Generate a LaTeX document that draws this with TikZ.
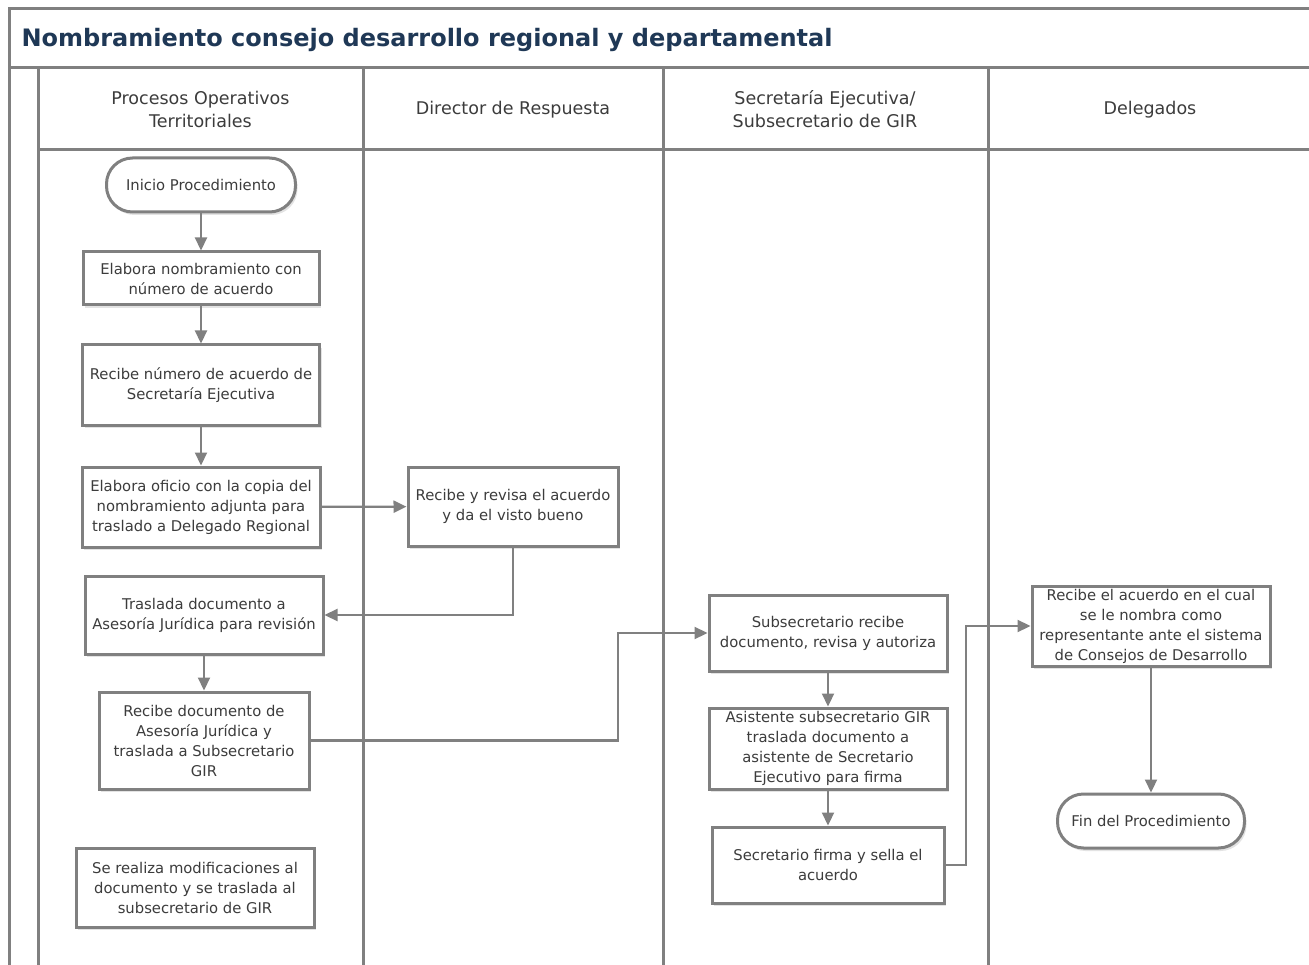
\documentclass[tikz,border=0pt]{standalone}
\usepackage{fontspec}
\setmainfont{DejaVu Sans}
\usetikzlibrary{arrows.meta,shadows}
\definecolor{lane}{RGB}{128,128,128}
\definecolor{ink}{RGB}{60,60,60}
\definecolor{navy}{RGB}{31,56,86}
\begin{document}
\begin{tikzpicture}[x=1pt,y=-1pt,
  frame/.style={draw=lane,line width=3pt},
  stepbox/.style={draw=lane,line width=3pt,fill=white,inner sep=0pt,align=center,
    text=ink,font=\fontsize{14.8}{20}\selectfont,
    drop shadow={opacity=0.22,shadow xshift=2pt,shadow yshift=-3pt}},
  term/.style={stepbox,rounded corners=26pt},
  flow/.style={draw=lane,line width=2.2pt,-{Triangle[length=13pt,width=12pt]}},
  lanehead/.style={text=ink,align=center,font=\fontsize{17.5}{23}\selectfont}
]
\useasboundingbox (0,0) rectangle (1309,965);
\fill[white] (0,0) rectangle (1309,965);

% pool frame and swimlanes
\begin{scope}
\clip (0,0) rectangle (1309,965);
\draw[frame] (9,970) -- (9,9) -- (1320,9);
\draw[frame] (9,68) -- (1320,68);
\draw[frame] (38,150) -- (1320,150);
\foreach \lx in {38,363,663,988} \draw[frame] (\lx,68) -- (\lx,970);
\end{scope}

% title and lane headers
\node[anchor=west,text=navy,font=\fontsize{24}{28}\selectfont\bfseries] (title) at (18,40)
  {Nombramiento consejo desarrollo regional y departamental};
\node[lanehead] (h1) at (200.5,109) {Procesos Operativos\\Territoriales};
\node[lanehead] (h2) at (513,110) {Director de Respuesta};
\node[lanehead] (h3) at (825,109) {Secretaría Ejecutiva/\\Subsecretario de GIR};
\node[lanehead] (h4) at (1150,110) {Delegados};

% process steps
\node[term,minimum width=189pt,minimum height=54pt] (ini) at (201,185) {Inicio Procedimiento};
\node[stepbox,minimum width=236pt,minimum height=53pt] (e1) at (201,278.5)
  {Elabora nombramiento con\\número de acuerdo};
\node[stepbox,minimum width=237pt,minimum height=80pt] (e2) at (201,385)
  {Recibe número de acuerdo de\\Secretaría Ejecutiva};
\node[stepbox,minimum width=238pt,minimum height=80pt] (e3) at (201,507)
  {Elabora oficio con la copia del\\nombramiento adjunta para\\traslado a Delegado Regional};
\node[stepbox,minimum width=210pt,minimum height=79pt] (dir) at (513,506.5)
  {Recibe y revisa el acuerdo\\y da el visto bueno};
\node[stepbox,minimum width=238pt,minimum height=78pt] (tras) at (204,615)
  {Traslada documento a\\Asesoría Jurídica para revisión};
\node[stepbox,minimum width=210pt,minimum height=97pt] (rec) at (204,740.5)
  {Recibe documento de\\Asesoría Jurídica y\\traslada a Subsecretario\\GIR};
\node[stepbox,minimum width=238pt,minimum height=79pt] (mod) at (195,887.5)
  {Se realiza modificaciones al\\documento y se traslada al\\subsecretario de GIR};
\node[stepbox,minimum width=238pt,minimum height=76pt] (sub) at (828,633)
  {Subsecretario recibe\\documento, revisa y autoriza};
\node[stepbox,minimum width=238pt,minimum height=81pt] (asi) at (828,748.5)
  {Asistente subsecretario GIR\\traslada documento a\\asistente de Secretario\\Ejecutivo para firma};
\node[stepbox,minimum width=232pt,minimum height=76pt] (sec) at (828,865)
  {Secretario firma y sella el\\acuerdo};
\node[stepbox,minimum width=238pt,minimum height=80pt] (rac) at (1151,626)
  {Recibe el acuerdo en el cual\\se le nombra como\\representante ante el sistema\\de Consejos de Desarrollo};
\node[term,minimum width=187pt,minimum height=54pt] (fin) at (1151,821) {Fin del Procedimiento};

% bend points of the routed connectors
\coordinate (j1) at (618,0);
\coordinate (j2) at (966,0);

% connectors
\draw[flow] (ini) -- (e1);
\draw[flow] (e1) -- (e2);
\draw[flow] (e2) -- (e3);
\draw[flow] (e3) -- (dir);
\draw[flow] (dir.south) |- (tras.east);
\draw[flow] (tras) -- (rec);
\draw[flow] (rec.east) -- (rec.east -| j1) -- (j1 |- sub.west) -- (sub.west);
\draw[flow] (sub) -- (asi);
\draw[flow] (asi) -- (sec);
\draw[flow] (sec.east) -- (sec.east -| j2) -- (j2 |- rac.west) -- (rac.west);
\draw[flow] (rac) -- (fin);
\end{tikzpicture}
\end{document}
